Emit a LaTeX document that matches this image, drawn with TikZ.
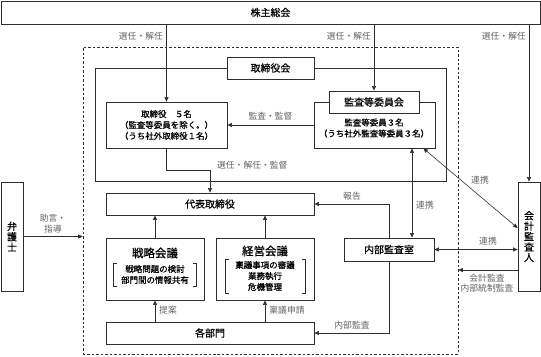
\documentclass[tikz,border=0pt]{standalone}
\usepackage{fontspec}
\setmainfont{Noto Sans CJK JP}
\newfontfamily\boxfont{Noto Sans CJK JP}[FakeBold=0.7]
\usepackage{tikz}
\usetikzlibrary{positioning,arrows.meta,calc}
\definecolor{oline}{HTML}{2E2E2E}
\definecolor{olabel}{HTML}{626262}

\begin{document}
\begin{tikzpicture}[x=1bp, y=-1bp,
  box/.style={rectangle, draw=oline, fill=white, line width=0.8pt, inner sep=1pt,
    align=center, font=\boxfont\fontsize{10}{12}\selectfont},
  small/.style={font=\boxfont\fontsize{8.5}{11}\selectfont, align=center, inner sep=1pt},
  vtext/.style={box, font=\boxfont\fontsize{10}{10.5}\selectfont, minimum width=22bp, minimum height=109bp},
  title/.style={font=\boxfont\fontsize{11.5}{13}\selectfont},
  lbl/.style={font=\fontsize{8.8}{10.5}\selectfont, text=olabel, inner sep=1pt, align=center},
  brk/.style={line width=0.6pt, color=oline},
  arr/.style={-{Triangle[length=4.5pt,width=4pt]}, line width=0.6pt, color=oline},
  darr/.style={{Triangle[length=4.5pt,width=4pt]}-{Triangle[length=4.5pt,width=4pt]}, line width=0.6pt, color=oline}
]
\useasboundingbox (0,0) rectangle (541,356);

% outer groups
\node[draw=oline, dash pattern=on 2.5pt off 2pt, line width=0.6pt, minimum width=375bp,
  minimum height=307bp, inner sep=0pt] (group) at (270.5,200.5) {};
\node[draw=oline, line width=0.8pt, minimum width=351bp, minimum height=113bp, inner sep=0pt]
  (tframe) at (270.5,124.5) {};

\node[box, minimum width=539bp, minimum height=23bp] (soukai) at (270.5,12.5) {株主総会};
\node[box, minimum width=87bp, minimum height=22bp] (tkai) at (270.5,68) {取締役会};

% board members
\node[box, small, minimum width=121bp, minimum height=46bp] (torishimari) at (166.5,125)
  {取締役　５名\\（監査等委員を除く。）\\（うち社外取締役１名）};
\node[box, minimum width=121bp, minimum height=46bp] (kansa) at (374.5,125) {};
\node[box, minimum width=90bp, minimum height=22bp] (kansahd) at (374,102) {監査等委員会};
\node[small, below=4bp of kansahd] (kansatx) {監査等委員３名\\（うち社外監査等委員３名）};

% executive side
\node[box, minimum width=208bp, minimum height=22bp] (daihyo) at (210,204) {代表取締役};
\node[box, minimum width=98bp, minimum height=62bp] (senryaku) at (155,269) {};
\node[title] (senryakut) at (155,253) {戦略会議};
\node[small, inner sep=2pt] (senryakub) at (155,274.5) {戦略問題の検討\\部門間の情報共有};
\node[box, minimum width=98bp, minimum height=62bp] (keiei) at (265,269) {};
\node[title] (keieit) at (265,251) {経営会議};
\node[small, inner sep=2pt] (keieib) at (265,276) {稟議事項の審議\\業務執行\\危機管理};
\node[box, minimum width=208bp, minimum height=22bp] (kakubu) at (210,333) {各部門};
\node[box, minimum width=90bp, minimum height=23bp] (naibu) at (389,249.5) {内部監査室};

% outside parties
\node[vtext] (kaikei) at (529,236.5) {会\\計\\監\\査\\人};
\node[vtext] (bengoshi) at (12,236.5) {弁\\護\\士};

% brackets
\draw[brk] ([xshift=11bp]senryaku.west |- senryakub.north) -- ++(-3,0) |- ([xshift=11bp]senryaku.west |- senryakub.south);
\draw[brk] ([xshift=-11bp]senryaku.east |- senryakub.north) -- ++(3,0) |- ([xshift=-11bp]senryaku.east |- senryakub.south);
\draw[brk] ([xshift=13bp]keiei.west |- keieib.north) -- ++(-3,0) |- ([xshift=13bp]keiei.west |- keieib.south);
\draw[brk] ([xshift=-12bp]keiei.east |- keieib.north) -- ++(3,0) |- ([xshift=-12bp]keiei.east |- keieib.south);

% connectors
\draw[arr] (soukai.south -| torishimari.north) -- (torishimari.north);
\draw[arr] (soukai.south -| kansahd.north) -- (kansahd.north);
\draw[arr] (soukai.south -| kaikei.north) -- (kaikei.north);
\node[lbl, anchor=east] at (164,36) {選任・解任};
\node[lbl, anchor=east] at (372,36) {選任・解任};
\node[lbl, anchor=east] at (527,36) {選任・解任};

\draw[arr] (kansa.west) -- (torishimari.east);
\node[lbl] at (270.5,116) {監査・監督};
\draw[arr] (torishimari.south) -- ++(0,22) -| (daihyo.north);
\node[lbl, anchor=west] at (216,165) {選任・解任・監督};

\draw[arr] (senryaku.north) -- (senryaku.north |- daihyo.south);
\draw[arr] (keiei.north) -- (keiei.north |- daihyo.south);
\draw[arr] (kakubu.north -| senryaku.south) -- (senryaku.south);
\draw[arr] (kakubu.north -| keiei.south) -- (keiei.south);
\node[lbl] at (168,310) {提案};
\node[lbl] at (287,310) {稟議申請};

\draw[arr] (naibu.north) -- (naibu.north |- daihyo.east) -- (daihyo.east);
\node[lbl] at (352,196) {報告};
\draw[arr] (naibu.south) |- (kakubu.east);
\node[lbl] at (352,325) {内部監査};

\draw[darr] ([xshift=23bp]naibu.north) -- ([xshift=23bp]naibu.north |- kansa.south);
\node[lbl] at (425,205) {連携};
\draw[darr] ([xshift=-12bp]kansa.south east) -- ([yshift=8.5bp]kaikei.west);
\node[lbl] at (480,180) {連携};
\draw[darr] (naibu.east) -- (naibu.east -| kaikei.west);
\node[lbl] at (488,241) {連携};
\draw[arr] ([yshift=-33.5bp]kaikei.west) -- ([yshift=-33.5bp]kaikei.west -| group.east);
\node[lbl] at (487,283) {会計監査\\内部統制監査};
\draw[arr] (bengoshi.east) -- (bengoshi.east -| group.west);
\node[lbl] at (53,223.5) {助言・\\指導};
\end{tikzpicture}
\end{document}
